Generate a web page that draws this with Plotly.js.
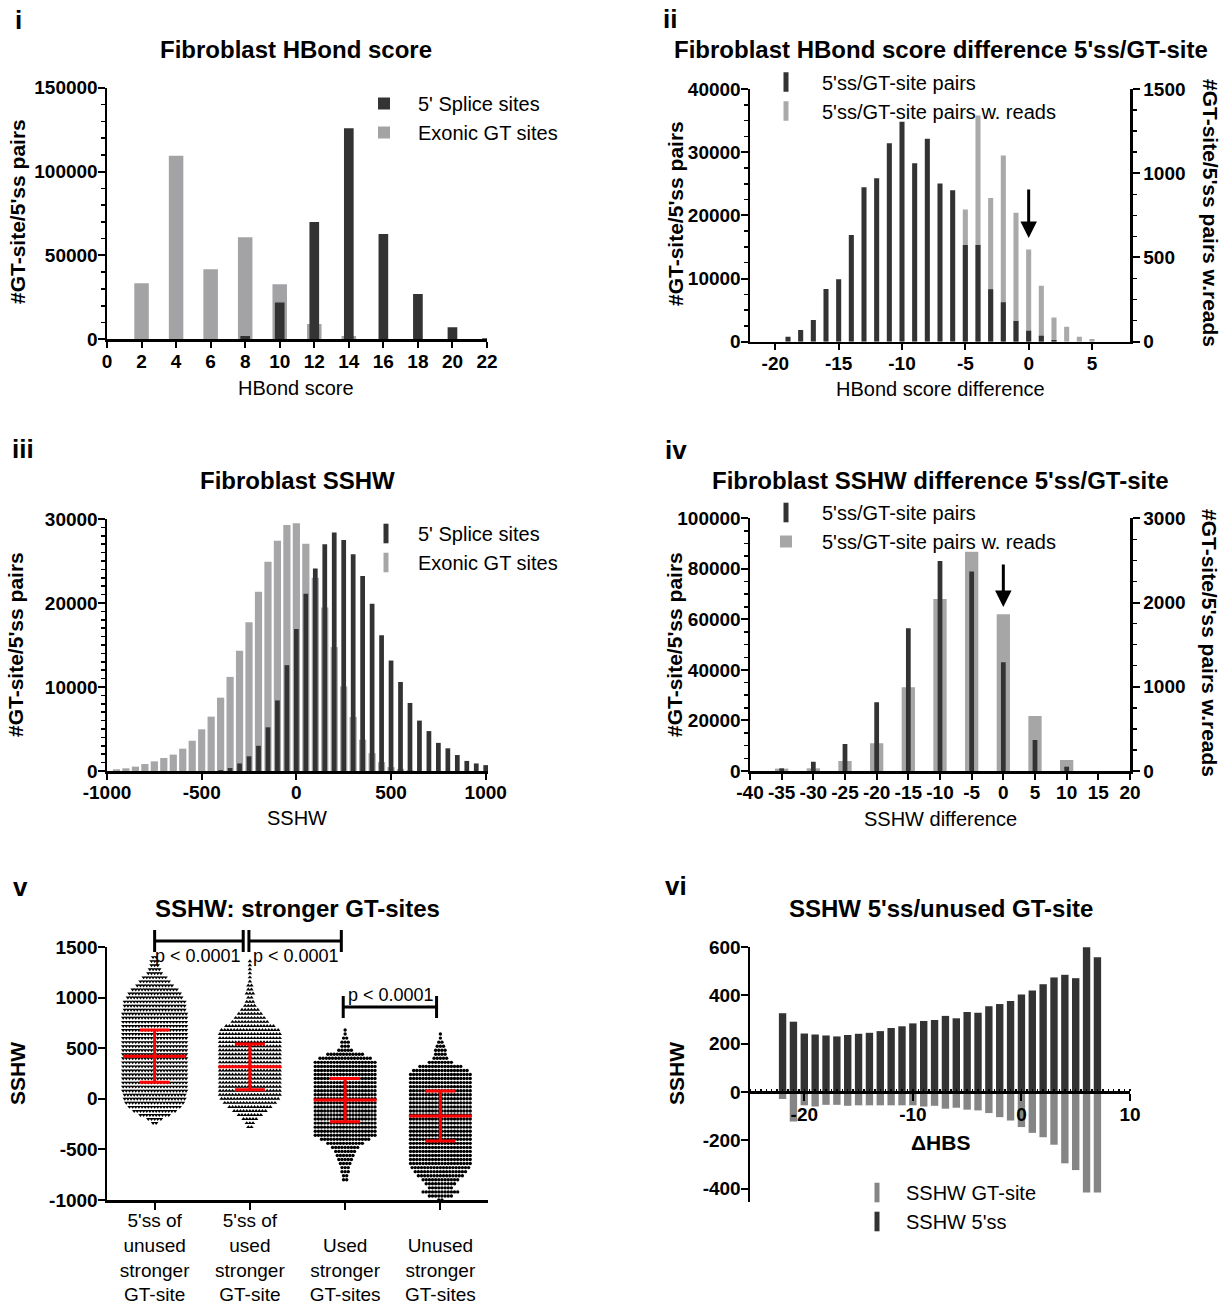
<!DOCTYPE html>
<html><head><meta charset="utf-8">
<script src="https://cdn.plot.ly/plotly-3.0.1.min.js"></script>
<style>html,body{margin:0;padding:0;background:#fff}#chart{width:1226px;height:1305px}</style>
</head><body><div id="chart"></div>
<script>
// ---------------- DATA ----------------
// Panel i : Fibroblast HBond score
const hbScore = [2,4,6,8,10,12,14,16,18,20,22];
const hbSplice5 = [null,null,null,2000,22000,69900,125800,62800,27000,7150,600];
const hbExonicGT = [33400,109500,41700,60800,32800,9100,2000,null,null,null,null];

// Panel ii : HBond score difference
const hbDiff = [-19,-18,-17,-16,-15,-14,-13,-12,-11,-10,-9,-8,-7,-6,-5,-4,-3,-2,-1,0,1,2,3,4,5];
const hbDiffPairs = [790,1850,3430,8350,9880,16900,24460,25890,31430,34810,28260,32120,25040,23980,15320,15320,8290,6230,3280,1740,950,260,null,null,null];
const hbDiffReads = [null,null,null,null,null,null,null,null,null,null,null,null,null,null,785,1342,853,1105,766,547,332,144,89,30,16];

// Panel iii : Fibroblast SSHW
const sshwBin = [-950,-900,-850,-800,-750,-700,-650,-600,-550,-500,-450,-400,-350,-300,-250,-200,-150,-100,-50,0,50,100,150,200,250,300,350,400,450,500,550,600,650,700,750,800,850,900,950,1000];
const sshwExonic = [200,320,520,830,1150,1550,1950,2660,3600,4960,6470,8730,11200,14330,17700,21350,24900,27400,29290,29480,27060,23000,19450,14750,10060,6430,3730,2120,1050,460,250,100,null,null,null,null,null,null,null,null];
const sshwSplice = [null,null,null,null,null,null,null,null,null,null,null,100,350,900,1750,3000,5200,8400,12600,16900,21100,24100,27000,28400,27500,25800,23200,19900,16150,13150,10600,8100,6000,4750,3350,2700,1900,1200,900,700];

// Panel iv : SSHW difference
const ssDiff = [-35,-30,-25,-20,-15,-10,-5,0,5,10];
const ssDiffPairs = [1050,3700,10700,27200,56500,83100,78900,43000,12300,1700];
const ssDiffReads = [28,32,119,328,993,2042,2604,1860,653,131];

// Panel v : SSHW of stronger GT-sites (beeswarm rows: SSHW level, number of dots in the row)
const groupLabels = ["5'ss of<br>unused<br>stronger<br>GT-site","5'ss of<br>used<br>stronger<br>GT-site"," <br>Used<br>stronger<br>GT-sites"," <br>Unused<br>stronger<br>GT-sites"];
const g1RowY = [-240,-200,-160,-120,-80,-40,0,40,80,120,160,200,240,280,320,360,400,440,480,520,560,600,640,680,720,760,800,840,880,920,960,1000,1040,1080,1120,1160,1200,1240,1280,1320,1360,1400];
const g1RowN = [2,5,10,14,17,19,20,20,21,21,21,21,21,21,21,21,21,21,21,21,21,21,21,21,21,21,21,21,20,20,20,18,17,15,12,10,8,5,4,3,3,2];
const g2RowY = [-280,-240,-200,-160,-120,-80,-40,0,40,80,120,160,200,240,280,320,360,400,440,480,520,560,600,640,680,720,760,800,840,880,920,960,1000,1040,1080,1120,1160,1200,1240,1280,1320,1360];
const g2RowN = [2,3,5,8,11,14,17,19,20,20,20,20,20,20,20,20,20,20,20,20,20,20,20,20,19,16,12,10,8,6,4,3,2,3,2,2,1,1,1,1,1,1];
const g3RowY = [-800,-760,-720,-680,-640,-600,-560,-520,-480,-440,-400,-360,-320,-280,-240,-200,-160,-120,-80,-40,0,40,80,120,160,200,240,280,320,360,400,440,480,520,560,600,640,680];
const g3RowN = [2,2,3,3,4,5,6,7,9,12,16,20,20,20,20,20,20,20,20,20,20,20,20,20,20,20,20,20,20,20,17,12,5,3,3,2,1,1];
const g4RowY = [-1000,-960,-920,-880,-840,-800,-760,-720,-680,-640,-600,-560,-520,-480,-440,-400,-360,-320,-280,-240,-200,-160,-120,-80,-40,0,40,80,120,160,200,240,280,320,360,400,440,480,520,560,600,640];
const g4RowN = [2,8,12,8,10,12,15,17,19,20,20,20,20,20,20,20,20,20,20,20,20,20,20,20,20,20,20,20,20,20,20,20,18,14,8,5,4,4,3,2,1,1];
const groupMean = [421,316,-13,-171];
const groupSD = [258,226,214,247];
const pLabel = "p < 0.0001";

// Panel vi : SSHW 5'ss / unused GT-site by delta HBS
const dHBS = [-22,-21,-20,-19,-18,-17,-16,-15,-14,-13,-12,-11,-10,-9,-8,-7,-6,-5,-4,-3,-2,-1,0,1,2,3,4,5,6,7];
const sshw5ss = [326,291,242,238,234,230,236,241,245,252,265,272,284,294,298,315,305,331,328,355,364,377,403,420,446,474,485,471,599,558];
const sshwGTsite = [-29,-122,-55,-60,-53,-53,-57,-55,-55,-55,-55,-55,-55,-60,-57,-69,-65,-73,-76,-87,-104,-118,-145,-169,-187,-218,-295,-323,-416,-416];

// tick values
const tvIIx = [-20,-15,-10,-5,0,5];
const tvIIIx = [-1000,-500,0,500,1000];
const tvIVx = [-40,-35,-30,-25,-20,-15,-10,-5,0,5,10,15,20];
const tvVy = [-1000,-500,0,500,1000,1500];
const tvVIx = [-20,-10,0,10];
const tvVIy = [-400,-200,0,200,400,600];

// ---------------- STYLE / LAYOUT ----------------
const W = 1226, H = 1305;
const fx = p => p / W;
const fy = p => 1 - p / H;
const FF = "Liberation Sans, Arial, Helvetica, sans-serif";
const DARK = "#333333";
const GRAY1 = "#a3a3a6", GRAY2 = "#a9a9a9", GRAY3 = "#a6a6a9", GRAY4 = "#a6a6a6", GRAY6 = "#858585";

const tickFont = {family: FF, size: 19, color: "#000", weight: "bold"};
function ax(o) {
  return Object.assign({
    showline: true, linecolor: "#000", linewidth: 2.5, ticks: "outside", ticklen: 6, tickwidth: 2,
    tickcolor: "#000", showgrid: false, zeroline: false, tickfont: tickFont, fixedrange: true
  }, o);
}
function minor(d) { return {ticks: "outside", ticklen: 4, tickwidth: 1.5, tickcolor: "#000", dtick: d, showgrid: false}; }
const txt = a => a.map(v => String(v));

function swarm(rowY, rowN, center, gap) {
  const X = [], Y = [];
  rowY.forEach((y, i) => {
    const n = rowN[i];
    for (let k = 0; k < n; k++) { X.push(center + (k - (n - 1) / 2) * gap); Y.push(y); }
  });
  return {X, Y};
}
function dummy(name, color, xa, ya, legend, rank) {
  return {type: "scatter", mode: "markers", x: [null], y: [null], name, xaxis: xa, yaxis: ya, legend, legendrank: rank,
    marker: {symbol: "line-ns", size: 14, color, line: {width: 5, color}}, hoverinfo: "skip"};
}

const traces = [];
// Panel i
traces.push({type: "bar", x: hbScore, y: hbExonicGT, width: 0.84, marker: {color: GRAY1}, name: "Exonic GT sites", xaxis: "x", yaxis: "y", legend: "legend", legendrank: 2});
traces.push({type: "bar", x: hbScore, y: hbSplice5, width: 0.56, marker: {color: DARK}, name: "5' Splice sites", xaxis: "x", yaxis: "y", legend: "legend", legendrank: 1});
// Panel ii
traces.push({type: "bar", x: hbDiff, y: hbDiffReads, width: 0.4, marker: {color: GRAY2}, name: "5'ss/GT-site pairs w. reads", xaxis: "x2", yaxis: "y3", showlegend: false});
traces.push({type: "bar", x: hbDiff, y: hbDiffPairs, width: 0.4, marker: {color: DARK}, name: "5'ss/GT-site pairs", xaxis: "x2", yaxis: "y2", showlegend: false});
traces.push(dummy("5'ss/GT-site pairs", DARK, "x2", "y2", "legend2", 1));
traces.push(dummy("5'ss/GT-site pairs w. reads", GRAY2, "x2", "y2", "legend2", 2));
// Panel iii
traces.push({type: "bar", x: sshwBin, y: sshwExonic, width: 38, marker: {color: GRAY3}, name: "Exonic GT sites", xaxis: "x3", yaxis: "y4", showlegend: false});
traces.push({type: "bar", x: sshwBin, y: sshwSplice, width: 25, marker: {color: DARK}, name: "5' Splice sites", xaxis: "x3", yaxis: "y4", showlegend: false});
traces.push(dummy("5' Splice sites", DARK, "x3", "y4", "legend3", 1));
traces.push(dummy("Exonic GT sites", GRAY3, "x3", "y4", "legend3", 2));
// Panel iv
traces.push({type: "bar", x: ssDiff, y: ssDiffReads, width: 2.1, marker: {color: GRAY4}, name: "5'ss/GT-site pairs w. reads", xaxis: "x4", yaxis: "y6", legend: "legend4", legendrank: 2});
traces.push({type: "bar", x: ssDiff, y: ssDiffPairs, width: 0.75, marker: {color: DARK}, name: "5'ss/GT-site pairs", xaxis: "x4", yaxis: "y5", showlegend: false});
traces.push(dummy("5'ss/GT-site pairs", DARK, "x4", "y5", "legend4", 1));
// Panel v
const gap = 0.033;
[[g1RowY, g1RowN, "triangle-down", 3.9], [g2RowY, g2RowN, "triangle-up", 3.9], [g3RowY, g3RowN, "circle", 3.4], [g4RowY, g4RowN, "circle", 3.4]].forEach((g, i) => {
  const s = swarm(g[0], g[1], i, gap);
  traces.push({type: "scatter", mode: "markers", x: s.X, y: s.Y, xaxis: "x5", yaxis: "y7", showlegend: false,
    marker: {symbol: g[2], size: g[3], color: "#000", line: {width: 0}}, hoverinfo: "skip", cliponaxis: false});
});
traces.push({type: "scatter", mode: "markers", x: [0, 1, 2, 3], y: groupMean, xaxis: "x5", yaxis: "y7", showlegend: false,
  marker: {symbol: "line-ew", size: 45, color: "#ff0000", line: {width: 3, color: "#ff0000"}},
  error_y: {type: "data", array: groupSD, visible: true, color: "#ff0000", thickness: 3, width: 15}, cliponaxis: false});
// Panel vi
traces.push({type: "bar", x: dHBS, y: sshwGTsite, width: 0.68, marker: {color: GRAY6}, name: "SSHW GT-site", xaxis: "x6", yaxis: "y8", showlegend: false});
traces.push({type: "bar", x: dHBS, y: sshw5ss, width: 0.68, marker: {color: DARK}, name: "SSHW 5'ss", xaxis: "x6", yaxis: "y8", showlegend: false});
traces.push(dummy("SSHW GT-site", GRAY6, "x6", "y8", "legend5", 1));
traces.push(dummy("SSHW 5'ss", DARK, "x6", "y8", "legend5", 2));

// vi x-axis sits at SSHW = 0
const vi_y = [fy(1202), fy(947)], vi_r = [-455, 600];
const vi_xpos = vi_y[0] + (0 - vi_r[0]) / (vi_r[1] - vi_r[0]) * (vi_y[1] - vi_y[0]);

const legendBase = {xanchor: "left", yanchor: "top", font: {family: FF, size: 20, color: "#000"}, bgcolor: "rgba(0,0,0,0)", borderwidth: 0, traceorder: "normal"};
const YS = -4, XS = -3;

const layout = {
  width: W, height: H, margin: {l: 0, r: 0, t: 0, b: 0}, paper_bgcolor: "#fff", plot_bgcolor: "rgba(0,0,0,0)",
  barmode: "overlay", font: {family: FF, color: "#000"}, hovermode: false,
  // i
  xaxis: ax({domain: [fx(107), fx(487)], range: [0, 22], dtick: 2, tick0: 0, anchor: "y", ticklabelstandoff: XS}),
  yaxis: ax({domain: [fy(339.3), fy(87.7)], range: [0, 150000], dtick: 50000, anchor: "x", tickformat: "d", ticklen: 7, minor: minor(10000), ticklabelstandoff: YS}),
  // ii
  xaxis2: ax({domain: [fx(750), fx(1130)], range: [-22, 8], tickmode: "array", tickvals: tvIIx, ticktext: txt(tvIIx), anchor: "y3", ticklabelstandoff: XS}),
  yaxis3: ax({domain: [fy(341.7), fy(89)], range: [0, 1500], dtick: 500, side: "right", anchor: "x2", tickformat: "d", ticklen: 7, minor: minor(125)}),
  yaxis2: ax({range: [0, 40000], dtick: 10000, overlaying: "y3", side: "left", anchor: "x2", tickformat: "d", ticklen: 7, minor: minor(2500), ticklabelstandoff: YS}),
  // iii
  xaxis3: ax({domain: [fx(107), fx(488)], range: [-1000, 1012], tickmode: "array", tickvals: tvIIIx, ticktext: txt(tvIIIx), anchor: "y4", ticklabelstandoff: XS}),
  yaxis4: ax({domain: [fy(771), fy(519)], range: [0, 30000], dtick: 10000, anchor: "x3", tickformat: "d", ticklen: 7, minor: minor(1000), ticklabelstandoff: YS}),
  // iv
  xaxis4: ax({domain: [fx(750), fx(1130)], range: [-40, 20], tickmode: "array", tickvals: tvIVx, ticktext: txt(tvIVx), anchor: "y6", ticklabelstandoff: XS}),
  yaxis6: ax({domain: [fy(771), fy(518.3)], range: [0, 3000], dtick: 1000, side: "right", anchor: "x4", tickformat: "d", ticklen: 7, minor: minor(250)}),
  yaxis5: ax({range: [0, 100000], dtick: 20000, overlaying: "y6", side: "left", anchor: "x4", tickformat: "d", ticklen: 7, minor: minor(5000), ticklabelstandoff: YS}),
  // v
  xaxis5: ax({domain: [fx(107), fx(488)], range: [-0.5, 3.5], tickmode: "array", tickvals: [0, 1, 2, 3], ticktext: groupLabels, anchor: "y7", ticklen: 7,
    tickfont: {family: FF, size: 19, color: "#000"}, ticklabelstandoff: -5}),
  yaxis7: ax({domain: [fy(1200), fy(947)], range: [-1000, 1500], tickmode: "array", tickvals: tvVy, ticktext: txt(tvVy), anchor: "x5", ticklen: 7, ticklabelstandoff: YS}),
  // vi
  xaxis6: ax({domain: [fx(750), fx(1130)], range: [-25, 10], tickmode: "array", tickvals: tvVIx, ticktext: txt(tvVIx), anchor: "free", position: vi_xpos,
    ticklen: 7, ticklabelstandoff: -2,
    minor: {ticks: "inside", ticklen: 2.5, tickwidth: 1.5, tickcolor: "#000", tickmode: "linear", tick0: 0, dtick: 0.5}}),
  yaxis8: ax({domain: vi_y, range: vi_r, tickmode: "array", tickvals: tvVIy, ticktext: txt(tvVIy), anchor: "x6", ticklen: 7, ticklabelstandoff: YS}),
  legend: Object.assign({}, legendBase, {x: fx(350), y: fy(84), itemwidth: 58}),
  legend2: Object.assign({}, legendBase, {x: fx(750), y: fy(62.5), itemwidth: 62}),
  legend3: Object.assign({}, legendBase, {x: fx(354), y: fy(514), itemwidth: 54}),
  legend4: Object.assign({}, legendBase, {x: fx(750), y: fy(493), itemwidth: 62}),
  legend5: Object.assign({}, legendBase, {x: fx(848), y: fy(1173), itemwidth: 48}),
  shapes: [],
  annotations: []
};

function ann(text, px, py, size, bold, extra) {
  return Object.assign({text, x: fx(px), y: fy(py), xref: "paper", yref: "paper", showarrow: false, xanchor: "center", yanchor: "middle",
    font: {family: FF, size, color: "#000", weight: bold ? 700 : 400}}, extra || {});
}
const A = layout.annotations;
// panel letters
[["i", 18, 20], ["ii", 670, 19], ["iii", 23, 449], ["iv", 676, 450], ["v", 20, 887], ["vi", 676, 886]].forEach(t => A.push(ann(t[0], t[1], t[2], 26, true)));
// titles
[["Fibroblast HBond score", 296, 50], ["Fibroblast HBond score difference 5'ss/GT-site", 941, 50], ["Fibroblast SSHW", 297, 480],
 ["Fibroblast SSHW difference 5'ss/GT-site", 940, 480], ["SSHW: stronger GT-sites", 297, 908], ["SSHW 5'ss/unused GT-site", 941, 909]]
  .forEach(t => A.push(ann(t[0], t[1], t[2], 24, true)));
// y titles
[["#GT-site/5'ss pairs", 17, 212], ["#GT-site/5'ss pairs", 675, 214], ["#GT-site/5'ss pairs", 16, 645], ["#GT-site/5'ss pairs", 675, 645],
 ["SSHW", 17, 1074], ["SSHW", 676, 1074]].forEach(t => A.push(ann(t[0], t[1], t[2], 21, true, {textangle: -90})));
[["#GT-site/5'ss pairs w.reads", 1210, 213], ["#GT-site/5'ss pairs w.reads", 1210, 643]].forEach(t => A.push(ann(t[0], t[1], t[2], 21, true, {textangle: 90})));
// x titles
[["HBond score", 296, 388], ["HBond score difference", 940, 389], ["SSHW", 297, 818], ["SSHW difference", 940, 819]].forEach(t => A.push(ann(t[0], t[1], t[2], 20, false)));
A.push(ann("\u0394HBS", 940, 1142, 21, true));
// arrows
A.push({x: 0, xref: "x2", y: fy(238), yref: "paper", text: "", showarrow: true, ax: 0, ay: -50, arrowhead: 2, arrowsize: 1.1, arrowwidth: 3, arrowcolor: "#000"});
A.push({x: 0, xref: "x4", y: fy(607), yref: "paper", text: "", showarrow: true, ax: 0, ay: -44, arrowhead: 2, arrowsize: 1.1, arrowwidth: 3, arrowcolor: "#000"});
// significance brackets (panel v)
const brackets = [[0, 0.93, 941, 930, 952, 0.46, 956], [0.99, 1.96, 941, 930, 952, 1.48, 956], [1.98, 2.96, 1007, 996, 1018, 2.48, 995]];
brackets.forEach(b => {
  const ln = {type: "line", xref: "x5", yref: "paper", line: {color: "#000", width: 3}};
  layout.shapes.push(Object.assign({}, ln, {x0: b[0], x1: b[1], y0: fy(b[2]), y1: fy(b[2])}));
  layout.shapes.push(Object.assign({}, ln, {x0: b[0], x1: b[0], y0: fy(b[3]), y1: fy(b[4])}));
  layout.shapes.push(Object.assign({}, ln, {x0: b[1], x1: b[1], y0: fy(b[3]), y1: fy(b[4])}));
  A.push({text: pLabel, x: b[5], xref: "x5", y: fy(b[6]), yref: "paper", showarrow: false, xanchor: "center", yanchor: "middle",
    font: {family: FF, size: 18, color: "#000"}});
});

Plotly.newPlot("chart", traces, layout, {staticPlot: true, displayModeBar: false});
</script>
</body></html>
